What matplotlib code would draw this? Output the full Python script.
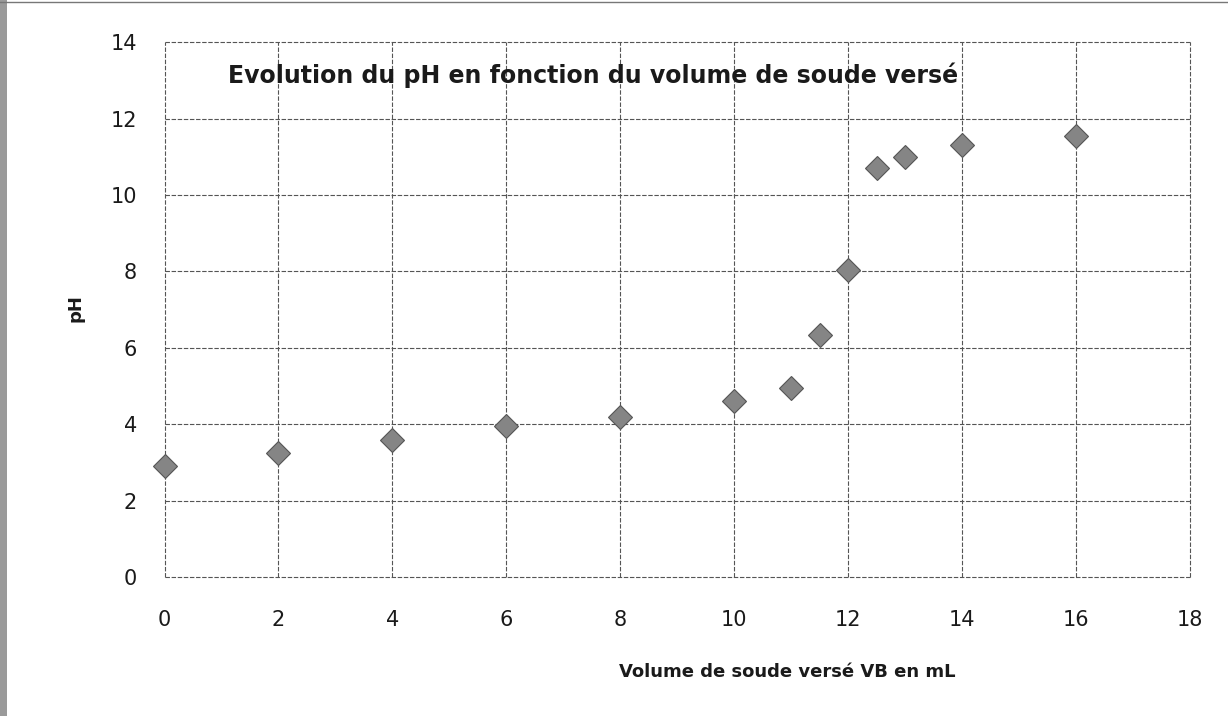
import matplotlib.pyplot as plt
from matplotlib.patches import Rectangle

# volume de soude versé (mL) et pH mesuré
volume_ml = [0, 2, 4, 6, 8, 10, 11, 11.5, 12, 12.5, 13, 14, 16]
ph_values = [2.9, 3.25, 3.6, 3.95, 4.2, 4.6, 4.95, 6.35, 8.05, 10.7, 11.0, 11.3, 11.55]

x_ticks = list(range(0, 19, 2))
y_ticks = list(range(0, 15, 2))

plt.rcParams['font.family'] = ['DejaVu Sans']

fig = plt.figure(figsize=(12.28, 7.16), dpi=100)
ax = fig.add_axes([0.134, 0.194, 0.835, 0.747])

ax.plot(volume_ml, ph_values, linestyle='none', marker='D', markersize=12,
        markerfacecolor='#858585', markeredgecolor='#555555', markeredgewidth=0.8,
        clip_on=False, zorder=3)

ax.set_xlim(0, 18)
ax.set_ylim(0, 14)
ax.set_xticks(x_ticks)
ax.set_yticks(y_ticks)
ax.tick_params(length=0, labelsize=15, colors='#1a1a1a')
ax.tick_params(axis='x', pad=24)
ax.tick_params(axis='y', pad=20)
ax.grid(True, color='#555555', linestyle=(0, (4, 1.5)), linewidth=0.8)
for line in ax.get_xgridlines() + ax.get_ygridlines():
    line.set_clip_on(False)
for sp in ax.spines.values():
    sp.set_visible(False)

ax.text(0.062, 0.938, 'Evolution du pH en fonction du volume de soude versé',
        transform=ax.transAxes, fontsize=17, fontweight='bold', va='center', ha='left',
        color='#1a1a1a')
ax.set_xlabel('Volume de soude versé VB en mL', fontsize=13, fontweight='bold',
              color='#1a1a1a')
ax.xaxis.set_label_coords(0.607, -0.161)
ax.set_ylabel('pH', fontsize=13, fontweight='bold', color='#1a1a1a')
ax.yaxis.set_label_coords(-0.078, 0.503)

# bord du scan
fig.patches.append(Rectangle((0, 0), 0.006, 1, transform=fig.transFigure,
                             facecolor='#9a9a9a', edgecolor='none'))
fig.lines.append(plt.Line2D([0, 1], [0.997, 0.997], transform=fig.transFigure,
                            color='#777777', linewidth=1))

fig.savefig('out.png', dpi=100)
